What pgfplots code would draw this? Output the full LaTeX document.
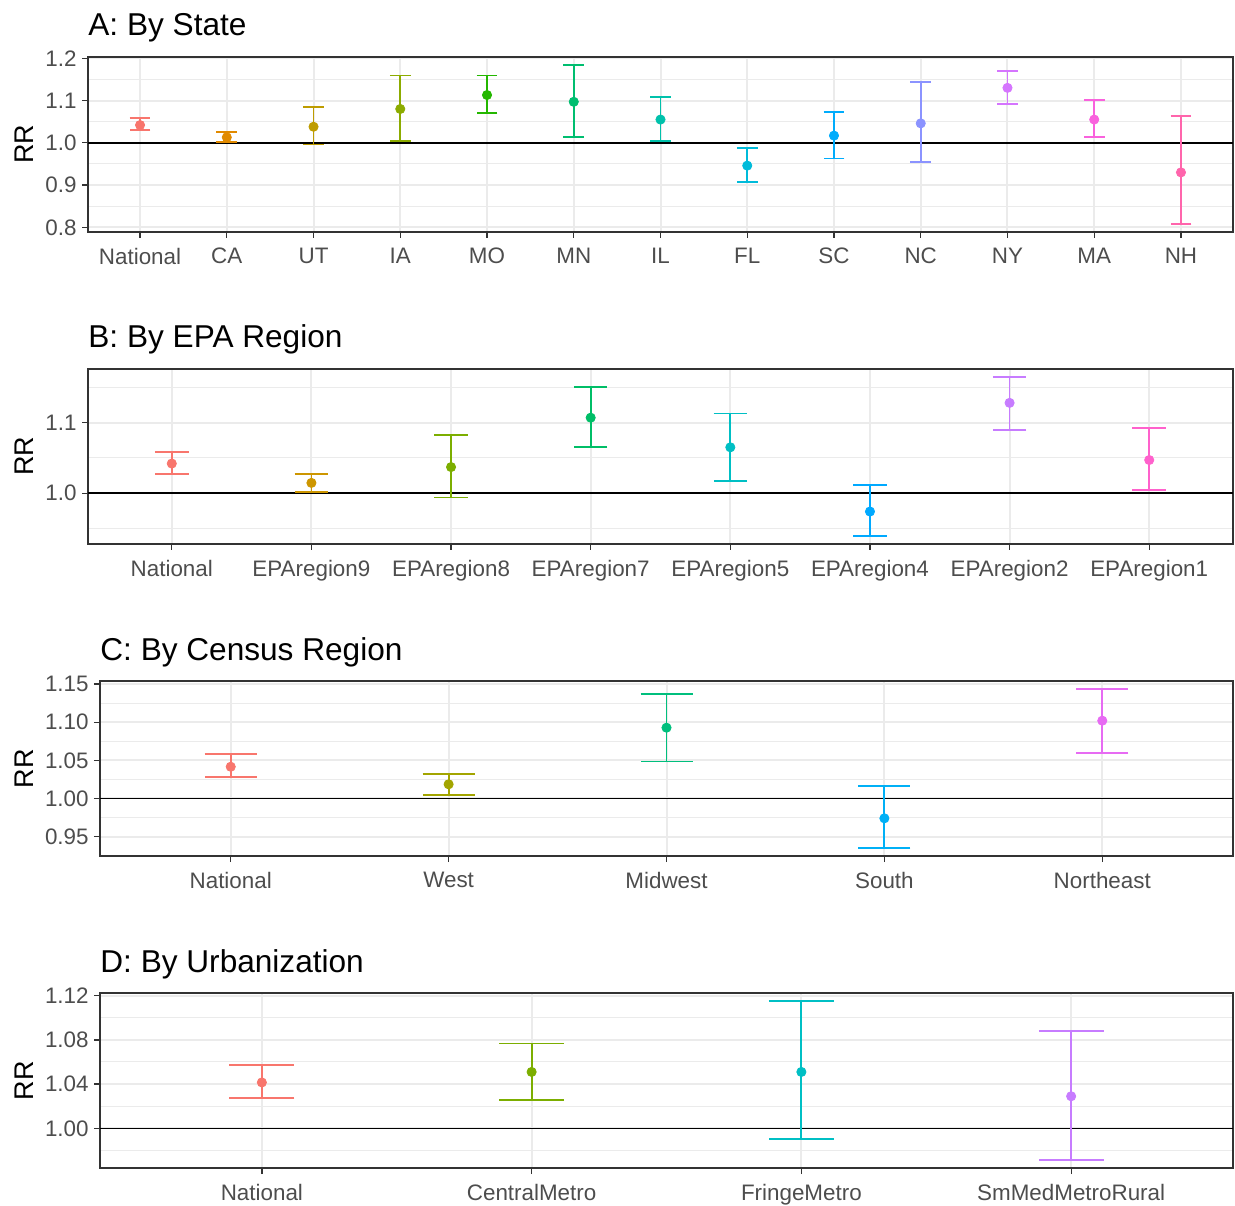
\documentclass[border=0pt]{standalone}
\usepackage{fontspec}
\setmainfont{Liberation Sans}
\usepackage{pgfplots}
\pgfplotsset{compat=1.18}

\definecolor{tickgray}{HTML}{4D4D4D}
\definecolor{bordergray}{HTML}{333333}
\definecolor{gridgray}{HTML}{EBEBEB}
% 13-colour hue palette
\definecolor{a1}{HTML}{F8766D}\definecolor{a2}{HTML}{E18A00}\definecolor{a3}{HTML}{BE9C00}
\definecolor{a4}{HTML}{8CAB00}\definecolor{a5}{HTML}{24B700}\definecolor{a6}{HTML}{00BE70}
\definecolor{a7}{HTML}{00C1AB}\definecolor{a8}{HTML}{00BBDA}\definecolor{a9}{HTML}{00ACFC}
\definecolor{a10}{HTML}{8B93FF}\definecolor{a11}{HTML}{D575FE}\definecolor{a12}{HTML}{F962DD}
\definecolor{a13}{HTML}{FF65AC}
% 8
\definecolor{b1}{HTML}{F8766D}\definecolor{b2}{HTML}{CD9600}\definecolor{b3}{HTML}{7CAE00}
\definecolor{b4}{HTML}{00BE67}\definecolor{b5}{HTML}{00BFC4}\definecolor{b6}{HTML}{00A9FF}
\definecolor{b7}{HTML}{C77CFF}\definecolor{b8}{HTML}{FF61CC}
% 5
\definecolor{c1}{HTML}{F8766D}\definecolor{c2}{HTML}{A3A500}\definecolor{c3}{HTML}{00BF7D}
\definecolor{c4}{HTML}{00B0F6}\definecolor{c5}{HTML}{E76BF3}
% 4
\definecolor{d1}{HTML}{F8766D}\definecolor{d2}{HTML}{7CAE00}\definecolor{d3}{HTML}{00BFC4}
\definecolor{d4}{HTML}{C77CFF}

% colour, cap half-width, x, estimate, plus, minus
\newcommand{\rr}[6]{\addplot[only marks, mark=*, mark size=2.3pt, color=#1,
  error bars/.cd, y dir=both, y explicit, error mark=|,
  error bar style={line width=0.9pt, color=#1, solid},
  error mark options={line width=0.9pt, mark size=#2, color=#1, solid}]
  coordinates {(#3,#4) += (0,#5) -= (0,#6)};}

\pgfplotsset{
  rrstyle/.style={
    scale only axis, anchor=south west, height=87.5pt,
    axis line style={bordergray, line width=0.65pt},
    tick style={bordergray, line width=0.65pt},
    major tick length=3pt, minor tick length=0pt,
    tick align=outside, tick pos=left,
    grid=both,
    major grid style={gridgray, line width=1pt},
    minor grid style={gridgray, line width=0.5pt},
    ticklabel style={font=\fontsize{11.2}{13}\selectfont, text=tickgray},
    yticklabel style={inner sep=0pt, xshift=-2.5pt},
    xticklabel style={inner sep=0pt, yshift=-4.75pt},
    every axis title shift=0pt,
    title style={at={(0,1)}, anchor=base west, yshift=10.5pt, inner sep=0pt,
      font=\fontsize{15.8}{18}\selectfont},
  }
}

\begin{document}
\begin{tikzpicture}
\useasboundingbox (0,0) rectangle (617.5pt,602.5pt);

% ---------- A ----------
\begin{axis}[rrstyle, at={(44pt,486.5pt)}, width=572.5pt,
  title={A: By State},
  xmin=-0.6, xmax=12.6, ymin=0.789, ymax=1.203,
  xtick={0,...,12},
  xticklabels={National,CA,UT,IA,MO,MN,IL,FL,SC,NC,NY,MA,NH},
  ytick={0.8,0.9,1.0,1.1,1.2}, yticklabels={0.8,0.9,1.0,1.1,1.2},
  minor ytick={0.85,0.95,1.05,1.15}]
\addplot[black, line width=0.8pt] coordinates {(-0.6,1) (12.6,1)};
\rr{a1}{5.2pt}{0}{1.042}{0.017}{0.012}
\rr{a2}{5.2pt}{1}{1.013}{0.013}{0.012}
\rr{a3}{5.2pt}{2}{1.038}{0.046}{0.042}
\rr{a4}{5.2pt}{3}{1.080}{0.079}{0.075}
\rr{a5}{5.2pt}{4}{1.113}{0.046}{0.042}
\rr{a6}{5.2pt}{5}{1.097}{0.087}{0.084}
\rr{a7}{5.2pt}{6}{1.055}{0.054}{0.050}
\rr{a8}{5.2pt}{7}{0.946}{0.042}{0.038}
\rr{a9}{5.2pt}{8}{1.017}{0.055}{0.054}
\rr{a10}{5.2pt}{9}{1.046}{0.098}{0.092}
\rr{a11}{5.2pt}{10}{1.130}{0.039}{0.038}
\rr{a12}{5.2pt}{11}{1.055}{0.047}{0.042}
\rr{a13}{5.2pt}{12}{0.930}{0.133}{0.122}
\end{axis}

% ---------- B ----------
\begin{axis}[rrstyle, at={(44pt,330.5pt)}, width=572.5pt,
  title={B: By EPA Region},
  xmin=-0.6, xmax=7.6, ymin=0.928, ymax=1.176,
  xtick={0,...,7},
  xticklabels={National,EPAregion9,EPAregion8,EPAregion7,EPAregion5,EPAregion4,EPAregion2,EPAregion1},
  ytick={1.0,1.1}, yticklabels={1.0,1.1},
  minor ytick={0.95,1.05,1.15}]
\addplot[black, line width=0.8pt] coordinates {(-0.6,1) (7.6,1)};
\rr{b1}{8.4pt}{0}{1.042}{0.016}{0.015}
\rr{b2}{8.4pt}{1}{1.0146}{0.0124}{0.0126}
\rr{b3}{8.4pt}{2}{1.037}{0.046}{0.043}
\rr{b4}{8.4pt}{3}{1.107}{0.043}{0.042}
\rr{b5}{8.4pt}{4}{1.065}{0.048}{0.048}
\rr{b6}{8.4pt}{5}{0.974}{0.038}{0.035}
\rr{b7}{8.4pt}{6}{1.128}{0.037}{0.038}
\rr{b8}{8.4pt}{7}{1.047}{0.045}{0.042}
\end{axis}

% ---------- C ----------
\begin{axis}[rrstyle, at={(50pt,174.5pt)}, width=566.5pt,
  title={C: By Census Region},
  xmin=-0.6, xmax=4.6, ymin=0.9246, ymax=1.154,
  xtick={0,...,4},
  xticklabels={National,West,Midwest,South,Northeast},
  ytick={0.95,1.00,1.05,1.10,1.15}, yticklabels={0.95,1.00,1.05,1.10,1.15},
  minor ytick={0.925,0.975,1.025,1.075,1.125}]
\addplot[black, line width=0.8pt] coordinates {(-0.6,1) (4.6,1)};
\rr{c1}{13pt}{0}{1.0416}{0.0164}{0.0136}
\rr{c2}{13pt}{1}{1.0186}{0.0139}{0.0138}
\rr{c3}{13pt}{2}{1.0928}{0.0442}{0.0442}
\rr{c4}{13pt}{3}{0.974}{0.0425}{0.039}
\rr{c5}{13pt}{4}{1.102}{0.0415}{0.042}
\end{axis}

% ---------- D ----------
\begin{axis}[rrstyle, at={(50pt,18.5pt)}, width=566.5pt,
  title={D: By Urbanization},
  xmin=-0.6, xmax=3.6, ymin=0.9641, ymax=1.1224,
  xtick={0,...,3},
  xticklabels={National,CentralMetro,FringeMetro,SmMedMetroRural},
  ytick={1.00,1.04,1.08,1.12}, yticklabels={1.00,1.04,1.08,1.12},
  minor ytick={0.98,1.02,1.06,1.10}]
\addplot[black, line width=0.8pt] coordinates {(-0.6,1) (3.6,1)};
\rr{d1}{16.2pt}{0}{1.0415}{0.0161}{0.0143}
\rr{d2}{16.2pt}{1}{1.051}{0.0257}{0.0253}
\rr{d3}{16.2pt}{2}{1.051}{0.0642}{0.0606}
\rr{d4}{16.2pt}{3}{1.029}{0.059}{0.0577}
\end{axis}

% y axis titles
\foreach \yy in {530.25,374.25,218.1,62.25}{
  \node[rotate=90, inner sep=0pt, font=\fontsize{13.5}{16}\selectfont] at (12pt,\yy pt) {RR};
}
\end{tikzpicture}
\end{document}
